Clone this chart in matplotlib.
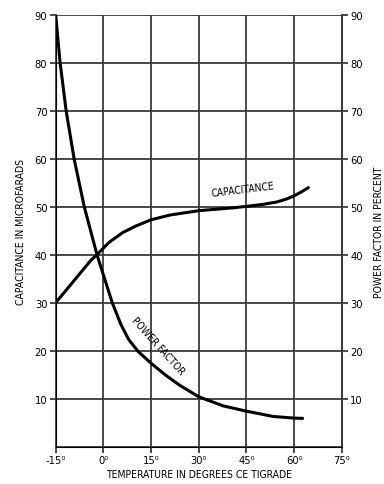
import matplotlib.pyplot as plt
import numpy as np

plt.rcParams['font.family'] = ['DejaVu Sans']
plt.rcParams['font.stretch'] = 'condensed'

# power factor curve (percent) vs temperature (deg C)
pf_temp = [-15, -13.6, -11.7, -9.2, -6.0, -2.0, 0.4, 2.8, 5.5, 8, 11, 15, 19.4, 24, 30, 37.7, 45, 53.4, 60, 62.7]
pf_val = [90, 80, 70, 60, 50, 40, 35, 30, 25.5, 22.3, 19.8, 17.4, 15.0, 12.8, 10.4, 8.5, 7.4, 6.3, 5.95, 5.9]

# capacitance curve (microfarads) vs temperature
cap_temp = [-15, -11, -7, -4, -1.3, 1.8, 6, 10.2, 15, 21, 30, 40.9, 45, 50, 54.5, 57.5, 59.7, 62, 64.5]
cap_val = [30, 33.2, 36.4, 38.8, 40.5, 42.6, 44.6, 46.0, 47.3, 48.3, 49.2, 49.8, 50.1, 50.5, 51.0, 51.6, 52.2, 53.0, 54.0]

x_ticks = [-15, 0, 15, 30, 45, 60, 75]
y_ticks = [10, 20, 30, 40, 50, 60, 70, 80, 90]

fig = plt.figure(figsize=(3.84, 4.85), dpi=100)
ax = fig.add_axes([0.145, 0.077, 0.745, 0.890])

ax.plot(pf_temp, pf_val, color='black', lw=2.2, solid_capstyle='round', solid_joinstyle='round')
ax.plot(cap_temp, cap_val, color='black', lw=2.2, solid_capstyle='round', solid_joinstyle='round')

ax.set_xlim(-15, 75)
ax.set_ylim(0, 90)
ax.set_xticks(x_ticks)
ax.set_xticklabels([f"{t}\u2070" for t in x_ticks])
ax.set_yticks(y_ticks)
ax.grid(True, color='#3a3a3a', lw=1.3)
for s in ax.spines.values():
    s.set_color('#3a3a3a')
    s.set_linewidth(1.3)
ax.spines['top'].set_visible(False)
ax.tick_params(axis='both', labelsize=8, length=4, color='#3a3a3a', width=1.3, pad=2)

ax2 = ax.twinx()
ax2.set_ylim(0, 90)
ax2.set_yticks(y_ticks)
ax2.tick_params(axis='y', labelsize=8, length=4, color='#3a3a3a', width=1.3, pad=2)
ax2.spines['top'].set_visible(False)
ax2.spines['right'].set_color('#3a3a3a')
ax2.spines['right'].set_linewidth(1.3)

ax.set_ylabel("CAPACITANCE IN MICROFARADS", fontsize=7.5, labelpad=6)
ax2.set_ylabel("POWER FACTOR IN PERCENT", fontsize=7.5, labelpad=8)
ax.set_xlabel("TEMPERATURE IN DEGREES CE TIGRADE", fontsize=7.5, labelpad=3)

ax.text(44, 51.9, "CAPACITANCE", fontsize=7.5, rotation=7, ha='center', va='bottom')
ax.text(17.0, 21.2, "POWER FACTOR", fontsize=7.5, rotation=-48, ha='center', va='center')

fig.savefig("out.png", dpi=100)
